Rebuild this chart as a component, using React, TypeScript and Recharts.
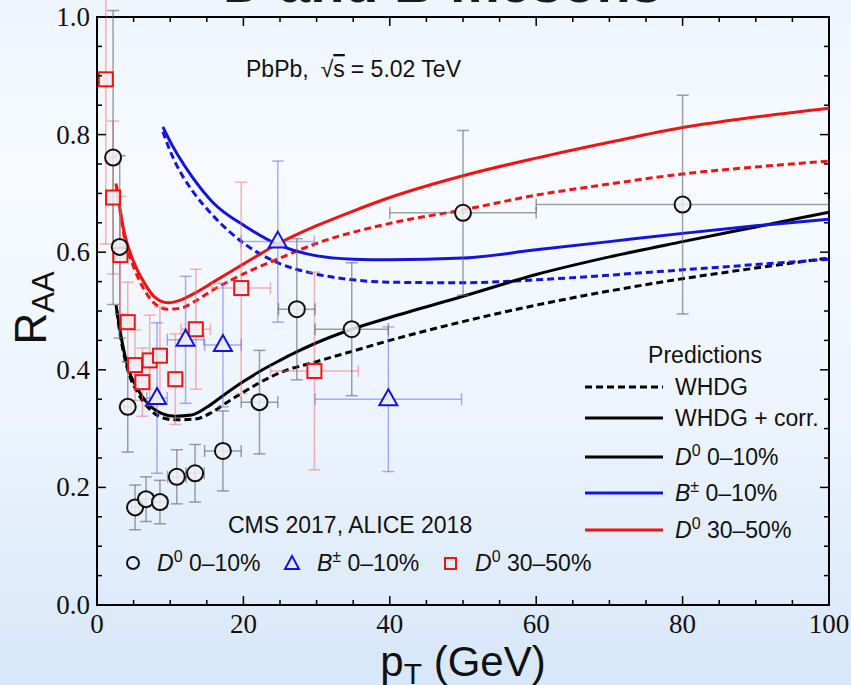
import React from 'react';
import { ComposedChart, Line, Scatter, ErrorBar, XAxis, YAxis, ReferenceArea } from 'recharts';

const W = 851;
const H = 685;
const PLOT_W = 732;
const PLOT_H = 588;

const SANS = '"Liberation Sans", Arial, sans-serif';
const SERIF = '"Liberation Serif", "Times New Roman", serif';

const RED = '#ee1414';
const BLUE = '#1414dc';

// axis ticks
const xTicks = [0, 5, 10, 15, 20, 25, 30, 35, 40, 45, 50, 55, 60, 65, 70, 75, 80, 85, 90, 95, 100];
const yTicks = [0, 0.05, 0.1, 0.15, 0.2, 0.25, 0.3, 0.35, 0.4, 0.45, 0.5, 0.55, 0.6, 0.65, 0.7, 0.75, 0.8, 0.85, 0.9, 0.95, 1.0];
const xTickLabels = ['0', '20', '40', '60', '80', '100'];
const yTickLabels = ['0.0', '0.2', '0.4', '0.6', '0.8', '1.0'];

// WHDG curves, [pT, R_AA]
const whdgD0Central = [[2.7, 0.5], [3.3, 0.45], [4.2, 0.4], [5.6, 0.36], [6.9, 0.337], [8.3, 0.322], [10.6, 0.315], [13.3, 0.316], [15.6, 0.327], [17.2, 0.34], [20, 0.362], [22.2, 0.378], [25, 0.395], [30, 0.414], [35, 0.432], [40, 0.45], [50, 0.482], [60, 0.51], [70, 0.534], [80, 0.555], [90, 0.573], [100, 0.59]];
const corrD0Central = [[2.6, 0.51], [3.3, 0.456], [4.2, 0.405], [5.6, 0.366], [6.9, 0.343], [8.8, 0.326], [10.6, 0.321], [12.9, 0.323], [15.1, 0.337], [17.2, 0.356], [20, 0.38], [22.2, 0.397], [25, 0.416], [27.2, 0.43], [30, 0.446], [34.8, 0.469], [40, 0.489], [50, 0.525], [60, 0.562], [70, 0.592], [80, 0.618], [90, 0.643], [100, 0.668]];
const whdgBCentral = [[9.0, 0.805], [10, 0.772], [11, 0.745], [13, 0.705], [15.8, 0.663], [20.4, 0.612], [24.9, 0.581], [29.5, 0.564], [35, 0.553], [40, 0.549], [50, 0.548], [60, 0.553], [70, 0.561], [80, 0.57], [90, 0.579], [100, 0.588]];
const corrBCentral = [[9.0, 0.813], [10, 0.788], [11, 0.766], [13, 0.728], [15.8, 0.685], [20.4, 0.643], [24.9, 0.612], [29.5, 0.595], [35, 0.588], [40, 0.587], [50, 0.59], [60, 0.604], [70, 0.618], [80, 0.632], [90, 0.645], [100, 0.656]];
const whdgD0Peripheral = [[2.7, 0.71], [3.75, 0.625], [5.1, 0.572], [6.5, 0.535], [7.85, 0.513], [9.7, 0.503], [11.5, 0.505], [13.3, 0.516], [16, 0.537], [20, 0.563], [25, 0.59], [30, 0.615], [40, 0.649], [50, 0.672], [60, 0.697], [70, 0.716], [80, 0.733], [90, 0.745], [100, 0.755]];
const corrD0Peripheral = [[2.6, 0.717], [3.75, 0.632], [5.1, 0.581], [6.5, 0.547], [7.85, 0.524], [9.7, 0.514], [11.5, 0.519], [13.3, 0.53], [16, 0.55], [20, 0.58], [25, 0.616], [30, 0.645], [35, 0.67], [40, 0.693], [50, 0.73], [60, 0.76], [70, 0.787], [80, 0.812], [90, 0.83], [100, 0.845]];

// measurements, [pT, R_AA, pT error, R_AA error]
const cmsD0Central = [[2.2, 0.761, 0.5, 0.25], [3.1, 0.609, 0.5, 0.155], [4.2, 0.337, 0.5, 0.077], [5.2, 0.166, 0.5, 0.038], [6.7, 0.18, 1.0, 0.038], [8.6, 0.175, 1.0, 0.037], [10.9, 0.218, 1.25, 0.046], [13.4, 0.224, 1.25, 0.049], [17.2, 0.262, 2.5, 0.068], [22.2, 0.345, 2.5, 0.088], [27.3, 0.503, 2.5, 0.12], [34.8, 0.469, 5, 0.113], [50, 0.667, 10, 0.14], [80, 0.681, 20, 0.186]];
const cmsBCentral = [[8.2, 0.352, 1.4, 0.128], [12.1, 0.451, 2.5, 0.108], [17.2, 0.442, 2.5, 0.105], [24.7, 0.618, 5, 0.137], [39.8, 0.35, 10, 0.123]];
const aliceD0Peripheral = [[1.2, 0.894, 0.25, 0.28], [2.2, 0.693, 0.5, 0.13], [3.2, 0.595, 0.5, 0.1], [4.2, 0.481, 0.5, 0.068], [5.2, 0.408, 0.5, 0.06], [6.2, 0.379, 0.5, 0.058], [7.2, 0.416, 0.5, 0.077], [8.6, 0.424, 1.0, 0.083], [10.7, 0.384, 1.0, 0.077], [13.5, 0.469, 2, 0.102], [19.7, 0.539, 4, 0.18], [29.7, 0.398, 6, 0.168]];

const toCurve = (pts: number[][]) => pts.map(([pt, raa]) => ({ pt, raa }));
const toPoints = (pts: number[][]) => pts.map(([pt, raa, ptErr, raaErr]) => ({ pt, raa, ptErr, raaErr }));

const XTick = ({ x, y, payload }: any) => {
  const v = payload.value;
  const label = xTickLabels.find((l) => Number(l) === v);
  const len = label ? 9 : 5;
  return (
    <g>
      <line x1={x} y1={y} x2={x} y2={y - len} stroke="#000" strokeWidth={1.5} />
      <line x1={x} y1={y - PLOT_H} x2={x} y2={y - PLOT_H + len} stroke="#000" strokeWidth={1.5} />
      {label && (
        <text x={x} y={y + 28} textAnchor="middle" fontFamily={SERIF} fontSize={27} fill="#111">
          {label}
        </text>
      )}
    </g>
  );
};

const YTick = ({ x, y, payload }: any) => {
  const v = payload.value;
  const label = yTickLabels.find((l) => Math.abs(Number(l) - v) < 1e-6);
  const len = label ? 9 : 5;
  return (
    <g>
      <line x1={x} y1={y} x2={x + len} y2={y} stroke="#000" strokeWidth={1.5} />
      <line x1={x + PLOT_W} y1={y} x2={x + PLOT_W - len} y2={y} stroke="#000" strokeWidth={1.5} />
      {label && (
        <text x={x - 7} y={y + 9} textAnchor="end" fontFamily={SERIF} fontSize={27} fill="#111">
          {label}
        </text>
      )}
    </g>
  );
};

const MARKER_FILL = 'rgba(238,240,245,0.85)';

const CircleMark = ({ cx, cy }: any) => (
  <circle cx={cx} cy={cy} r={8} fill={MARKER_FILL} stroke="#111" strokeWidth={2} />
);
const TriangleMark = ({ cx, cy }: any) => (
  <path d={`M${cx},${cy - 10} L${cx + 9},${cy + 6} L${cx - 9},${cy + 6} Z`} fill={MARKER_FILL} stroke={BLUE} strokeWidth={2} />
);
const SquareMark = ({ cx, cy }: any) => (
  <rect x={cx - 7} y={cy - 7} width={14} height={14} fill={MARKER_FILL} stroke={RED} strokeWidth={2} />
);

const Sup = ({ base, sup, rest }: { base: string; sup: string; rest: string }) => (
  <>
    <tspan fontStyle="italic">{base}</tspan>
    <tspan dy={-9} fontSize={16}>{sup}</tspan>
    <tspan dy={9}>{rest}</tspan>
  </>
);

const legendRows = [
  { y: 387, color: '#000', dash: '7 4', text: 'WHDG' },
  { y: 418, color: '#000', dash: undefined, text: 'WHDG + corr.' },
  { y: 457, color: '#000', dash: undefined, sup: ['D', '0', ' 0\u201310%'] },
  { y: 493, color: BLUE, dash: undefined, sup: ['B', '\u00b1', ' 0\u201310%'] },
  { y: 530, color: RED, dash: undefined, sup: ['D', '0', ' 30\u201350%'] },
];

const Overlay = () => (
  <svg width={W} height={H} style={{ position: 'absolute', left: 0, top: 0, pointerEvents: 'none' }}>
    <text x={223} y={2} fontFamily={SANS} fontSize={56} fontWeight="bold" fill="#1a1a1a">D and B mesons</text>

    <text x={246} y={77} fontFamily={SANS} fontSize={23} fill="#111">
      PbPb,<tspan dx={12}>{'\u221a'}</tspan><tspan style={{ textDecoration: 'overline' }}>s</tspan><tspan dx={6}>= 5.02 TeV</tspan>
    </text>

    <text x={705} y={363} textAnchor="middle" fontFamily={SANS} fontSize={23} fill="#111">Predictions</text>
    {legendRows.map((r) => (
      <g key={r.y}>
        <line x1={585} y1={r.y} x2={663} y2={r.y} stroke={r.color} strokeWidth={3} strokeDasharray={r.dash} />
        <text x={675} y={r.y + 8} fontFamily={SANS} fontSize={23} fill="#111">
          {r.sup ? <Sup base={r.sup[0]} sup={r.sup[1]} rest={r.sup[2]} /> : r.text}
        </text>
      </g>
    ))}

    <text x={228} y={533} fontFamily={SANS} fontSize={23} fill="#111">CMS 2017, ALICE 2018</text>
    <circle cx={133} cy={563} r={6} fill="none" stroke="#111" strokeWidth={2} />
    <text x={157} y={571} fontFamily={SANS} fontSize={23} fill="#111"><Sup base="D" sup="0" rest={' 0\u201310%'} /></text>
    <path d="M292,556 L299,569 L285,569 Z" fill="none" stroke={BLUE} strokeWidth={2} />
    <text x={317} y={571} fontFamily={SANS} fontSize={23} fill="#111"><Sup base="B" sup={'\u00b1'} rest={' 0\u201310%'} /></text>
    <rect x={445} y={558} width={11} height={11} fill="none" stroke={RED} strokeWidth={2} />
    <text x={475} y={571} fontFamily={SANS} fontSize={23} fill="#111"><Sup base="D" sup="0" rest={' 30\u201350%'} /></text>

    <text x={463} y={676} textAnchor="middle" fontFamily={SANS} fontSize={42} fill="#111">
      p<tspan dy={8} fontSize={30}>T</tspan><tspan dy={-8}> (GeV)</tspan>
    </text>
    <text transform="translate(46,308) rotate(-90)" textAnchor="middle" fontFamily={SANS} fontSize={44} fill="#111">
      R<tspan dy={8} fontSize={31}>AA</tspan>
    </text>
  </svg>
);

export default function App() {
  return (
    <div
      style={{
        position: 'relative',
        width: W,
        height: H,
        overflow: 'hidden',
        background: 'linear-gradient(to bottom, #eef5fd 0%, #f7fbff 25%, #edf4fd 60%, #d7e7f9 100%)',
      }}
    >
      <style>{'body{margin:0}'}</style>
      <ComposedChart width={W} height={H} margin={{ top: 17, right: 22, bottom: 0, left: 0 }}>
        <XAxis
          type="number"
          dataKey="pt"
          domain={[0, 100]}
          ticks={xTicks}
          tick={<XTick />}
          tickLine={false}
          axisLine={false}
          tickSize={0}
          tickMargin={0}
          height={80}
          interval={0}
          allowDataOverflow
        />
        <YAxis
          type="number"
          dataKey="raa"
          domain={[0, 1]}
          ticks={yTicks}
          tick={<YTick />}
          tickLine={false}
          axisLine={false}
          tickSize={0}
          tickMargin={0}
          width={97}
          interval={0}
          allowDataOverflow
        />
        <ReferenceArea x1={0} x2={100} y1={0} y2={1} fill="none" stroke="#000" strokeWidth={2} />

        <Line data={toCurve(whdgD0Central)} dataKey="raa" type="monotone" stroke="#000" strokeWidth={3} strokeDasharray="7 4" dot={false} isAnimationActive={false} />
        <Line data={toCurve(whdgBCentral)} dataKey="raa" type="monotone" stroke={BLUE} strokeWidth={3} strokeDasharray="7 4" dot={false} isAnimationActive={false} />
        <Line data={toCurve(whdgD0Peripheral)} dataKey="raa" type="monotone" stroke={RED} strokeWidth={3} strokeDasharray="7 4" dot={false} isAnimationActive={false} />
        <Line data={toCurve(corrD0Central)} dataKey="raa" type="monotone" stroke="#000" strokeWidth={3} dot={false} isAnimationActive={false} />
        <Line data={toCurve(corrBCentral)} dataKey="raa" type="monotone" stroke={BLUE} strokeWidth={3} dot={false} isAnimationActive={false} />
        <Line data={toCurve(corrD0Peripheral)} dataKey="raa" type="monotone" stroke={RED} strokeWidth={3} dot={false} isAnimationActive={false} />

        <Scatter data={toPoints(aliceD0Peripheral)} dataKey="raa" shape={<SquareMark />} isAnimationActive={false}>
          <ErrorBar dataKey="raaErr" direction="y" width={6} stroke="rgba(240,120,120,0.55)" strokeWidth={1.5} />
          <ErrorBar dataKey="ptErr" direction="x" width={6} stroke="rgba(240,120,120,0.55)" strokeWidth={1.5} />
        </Scatter>
        <Scatter data={toPoints(cmsBCentral)} dataKey="raa" shape={<TriangleMark />} isAnimationActive={false}>
          <ErrorBar dataKey="raaErr" direction="y" width={6} stroke="rgba(110,110,235,0.55)" strokeWidth={1.5} />
          <ErrorBar dataKey="ptErr" direction="x" width={6} stroke="rgba(110,110,235,0.55)" strokeWidth={1.5} />
        </Scatter>
        <Scatter data={toPoints(cmsD0Central)} dataKey="raa" shape={<CircleMark />} isAnimationActive={false}>
          <ErrorBar dataKey="raaErr" direction="y" width={6} stroke="rgba(100,100,100,0.6)" strokeWidth={1.5} />
          <ErrorBar dataKey="ptErr" direction="x" width={6} stroke="rgba(100,100,100,0.6)" strokeWidth={1.5} />
        </Scatter>
      </ComposedChart>
      <Overlay />
    </div>
  );
}
